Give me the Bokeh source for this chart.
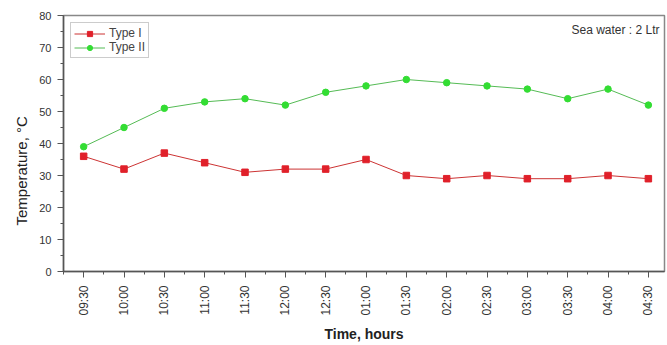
from bokeh.plotting import figure
from bokeh.models import FixedTicker, Label, Legend, LegendItem, Range1d, Title
from bokeh.embed import file_html
from bokeh.resources import INLINE
import math

times = ["09:30", "10:00", "10:30", "11:00", "11:30", "12:00", "12:30", "01:00",
         "01:30", "02:00", "02:30", "03:00", "03:30", "04:00", "04:30"]
type1 = [36, 32, 37, 34, 31, 32, 32, 35, 30, 29, 30, 29, 29, 30, 29]
type2 = [39, 45, 51, 53, 54, 52, 56, 58, 60, 59, 58, 57, 54, 57, 52]
y_ticks = [0, 10, 20, 30, 40, 50, 60, 70, 80]

xs = list(range(len(times)))
FONT = "Liberation Sans"
x_start = -0.5
x_end = len(times) - 1 + 0.4

p = figure(width=667, height=345, output_backend="svg", toolbar_location=None,
           x_range=Range1d(x_start, x_end), y_range=Range1d(0, 80),
           min_border_left=63, min_border_right=3, min_border_top=15, min_border_bottom=74)
p.grid.visible = False
p.outline_line_color = "#888888"
p.outline_line_width = 1.5

l1 = p.line(xs, type1, line_color="#cc3333", line_width=1)
m1 = p.scatter(xs, type1, marker="square", size=6.5, fill_color="#e0202a", line_color="#e0202a")
l2 = p.line(xs, type2, line_color="#55bb55", line_width=1)
m2 = p.scatter(xs, type2, marker="circle", size=6.5, fill_color="#33dd33", line_color="#33dd33")

legend = Legend(items=[LegendItem(label="Type I", renderers=[l1, m1]),
                       LegendItem(label="Type II", renderers=[l2, m2])],
                location="top_left", margin=7, padding=3, spacing=0,
                label_height=13, glyph_height=13, glyph_width=31, label_standoff=4,
                label_text_font=FONT,
                border_line_color="#999999", border_line_width=1,
                background_fill_alpha=1)
legend.label_text_font_size = "12px"
p.add_layout(legend)

p.xaxis.ticker = FixedTicker(ticks=xs, minor_ticks=[i + 0.5 for i in range(-1, len(times))])
p.xaxis.major_label_overrides = {i: t for i, t in enumerate(times)}
p.xaxis.major_label_orientation = math.pi / 2
p.yaxis.ticker = FixedTicker(ticks=y_ticks, minor_ticks=[v + 5 for v in y_ticks[:-1]])

for ax in (p.xaxis, p.yaxis):
    ax.axis_line_color = "#555555"
    ax.axis_line_width = 1.5
    ax.major_tick_line_color = "#555555"
    ax.minor_tick_line_color = "#555555"
    ax.major_tick_out = 6
    ax.major_tick_in = 0
    ax.minor_tick_out = 3
    ax.minor_tick_in = 0
    ax.major_label_text_font = FONT
    ax.major_label_text_color = "#333333"
    ax.axis_label_text_font = FONT
    ax.axis_label_text_color = "#222222"

p.xaxis.major_label_text_font_size = "12px"
p.xaxis.major_label_standoff = 8
p.yaxis.major_label_text_font_size = "11px"
p.yaxis.major_label_standoff = 6

p.xaxis.axis_label = "Time, hours"
p.xaxis.axis_label_text_font_size = "14px"
p.xaxis.axis_label_text_font_style = "bold"
p.xaxis.axis_label_standoff = 7

p.add_layout(Title(text="Temperature, °C", align="left", offset=46, standoff=14,
                   text_font=FONT, text_font_size="15px", text_font_style="normal",
                   text_color="#222222"), "left")

p.add_layout(Label(x=x_end, y=80, x_offset=-5, y_offset=-7,
                   text="Sea water : 2 Ltr", text_align="right", text_baseline="top",
                   text_font=FONT, text_font_size="12px", text_color="#333333"))

open("out.html", "w").write(file_html(p, INLINE))
